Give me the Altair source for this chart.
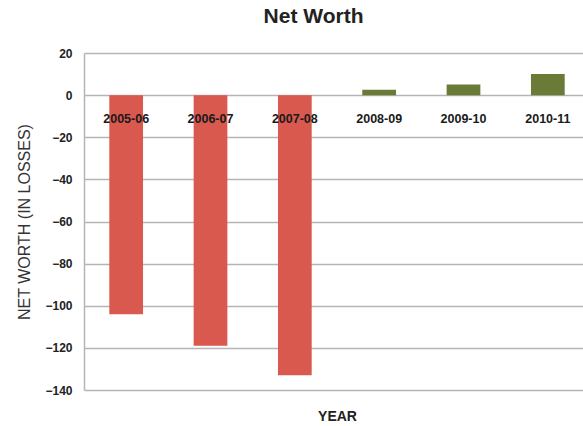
import altair as alt
import pandas as pd

years = ["2005-06", "2006-07", "2007-08", "2008-09", "2009-10", "2010-11"]
net_worth = [-104, -119, -133, 2.5, 5, 10]

df = pd.DataFrame({"year": years, "value": net_worth})
df["sign"] = ["neg" if v < 0 else "pos" for v in net_worth]

FONT = "Liberation Sans"
PLOT_W = 499
PLOT_H = 337

x_scale = alt.Scale(domain=years, range=[0, 506], paddingInner=0.6, paddingOuter=0.3)
y_scale = alt.Scale(domain=[-140, 20], nice=False, zero=False)

bars = alt.Chart(df).mark_bar().encode(
    x=alt.X("year:N", scale=x_scale, sort=years,
            axis=alt.Axis(labels=False, ticks=False, domain=False, grid=False,
                          title="YEAR", titleFont=FONT, titleFontSize=14,
                          titleFontWeight="bold", titleColor="#222222",
                          titleY=26, titleBaseline="middle")),
    y=alt.Y("value:Q", scale=y_scale,
            axis=alt.Axis(values=list(range(-140, 21, 20)), grid=True,
                          gridColor="#b5b5b5", gridWidth=1.5,
                          domain=True, domainColor="#b5b5b5", domainWidth=1.5,
                          ticks=False, labelPadding=12, labelFont=FONT,
                          labelFontSize=12, labelFontWeight="bold",
                          labelColor="#222222",
                          title="NET WORTH (IN LOSSES)", titleFont=FONT,
                          titleFontSize=16, titleFontWeight="normal",
                          titleColor="#333333", titleAngle=270,
                          titleX=-60, titleY=PLOT_H / 2, titleAlign="center",
                          titleBaseline="middle")),
    color=alt.Color("sign:N", scale=alt.Scale(domain=["neg", "pos"],
                                              range=["#D9594F", "#6A7A37"]),
                    legend=None),
)

labels = alt.Chart(df).mark_text(
    font=FONT, fontSize=12.5, fontWeight="bold", color="#1a1a1a",
    dy=24, baseline="middle", align="center"
).encode(
    x=alt.X("year:N", scale=x_scale, sort=years),
    y=alt.datum(0),
    text="year:N",
)

chart = alt.layer(bars, labels).properties(
    width=PLOT_W, height=PLOT_H,
    title=alt.TitleParams("Net Worth", font=FONT, fontSize=21, fontWeight="bold",
                          color="#222222", anchor="middle", dx=-20, offset=20),
    autosize=alt.AutoSizeParams(type="none"),
    padding={"left": 84, "top": 53, "right": 0, "bottom": 36},
).configure_view(stroke=None)

chart.save("out.html", embed_options={"renderer": "svg", "actions": False})
